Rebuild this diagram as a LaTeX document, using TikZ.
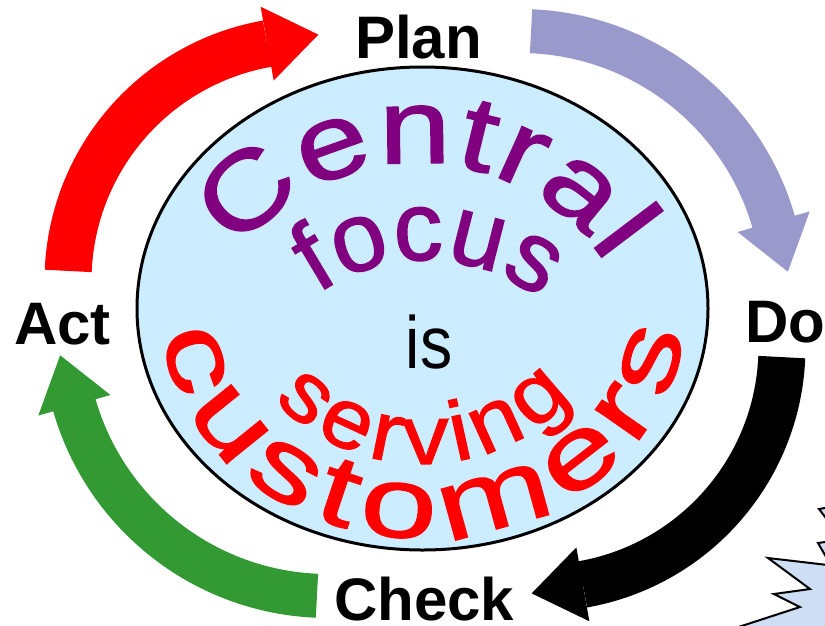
\documentclass[tikz,border=0pt]{standalone}
\usepackage{fontspec}
\setmainfont{Liberation Sans}
\newfontfamily\waCentral[FakeStretch=1.22,FakeBold=1.5]{Liberation Sans}
\newfontfamily\waFocus[FakeBold=1.5]{Liberation Sans}
\newfontfamily\waCust[FakeStretch=1.38,FakeBold=1.5]{Liberation Sans}
\newfontfamily\waServ[FakeStretch=1.1,FakeBold=1.5]{Liberation Sans}
\usetikzlibrary{arrows.meta,decorations.text,calc}
\definecolor{ellfill}{RGB}{204,236,255}
\definecolor{wpurple}{RGB}{128,0,128}
\definecolor{apurple}{RGB}{153,153,204}
\definecolor{agreen}{RGB}{51,153,51}
\definecolor{starfill}{RGB}{205,222,245}
\tikzset{
  cycarrow/.style={line width=#1, -{Triangle[length=52pt,width=75pt,line width=0pt]}},
  lab/.style={font=\bfseries\fontsize{60}{60}\selectfont, inner sep=0pt, anchor=base west},
}
\begin{document}
\begin{tikzpicture}[x=1pt,y=1pt]
\path[use as bounding box] (0,0) rectangle (825,-625);
\begin{scope}
\clip (0,0) rectangle (825,-625);
% arc centres
\coordinate (cr) at (309,-281);
\coordinate (cp) at (520,-295);
\coordinate (cb) at (541,-347);
\coordinate (cg) at (328,-332);
% cycle arrows
\draw[cycarrow=47, red] ($(cr)+(177.6:241)$) arc[start angle=177.6, end angle=100, radius=241] -- ++(10:52);
\draw[cycarrow=44, apurple] ($(cp)+(87.6:264)$) arc[start angle=87.6, end angle=15.9, radius=264] -- ++(-74.1:51);
\draw[cycarrow=47, black] ($(cb)+(-2.4:241)$) arc[start angle=-2.4, end angle=-80, radius=241] -- ++(190:52);
\draw[cycarrow=44, agreen] ($(cg)+(267.6:264)$) arc[start angle=267.6, end angle=195.9, radius=264] -- ++(105.9:51);
% central ellipse
\draw[fill=ellfill, line width=3pt] (422.5,-308.5) ellipse [x radius=285.5, y radius=241.5];
% arched texts
\path[decorate, decoration={text along path, text align=fit to path,
  text={|\waCentral\fontsize{106}{106}\selectfont\color{wpurple}|Central}}]
  ($(418,-389)+(143:226)$) arc[start angle=143, end angle=33.5, radius=226];
\path[decorate, decoration={text along path, text align=fit to path,
  text={|\waFocus\fontsize{98}{98}\selectfont\color{wpurple}|focus}}]
  ($(425,-447)+(125:187)$) arc[start angle=125, end angle=52, radius=187];
\node[anchor=base, inner sep=0pt, font=\fontsize{74}{74}\selectfont] (is) at (429,-368) {\scalebox{0.87}[1]{is}};
\path[decorate, decoration={text along path, text align=fit to path,
  text={|\waServ\fontsize{84}{84}\selectfont\color{red}|serving}}]
  ($(422,-262)+(223:202)$) arc[start angle=223, end angle=318, radius=202];
\path[decorate, decoration={text along path, text align=fit to path,
  text={|\waCust\fontsize{100}{100}\selectfont\color{red}|customers}}]
  ($(423,-310)+(186:262 and 228)$) arc[start angle=186, end angle=354, x radius=262, y radius=228];
% labels
\node[lab] (plan) at (355,-58) {Plan};
\node[lab] (act) at (14,-344) {Act};
\node[lab] (do) at (745,-342) {Do};
\node[lab] (check) at (334,-620) {Check};
% starburst in the corner
\filldraw[fill=starfill, draw=black, line width=2pt, line join=miter]
  (831,-507) -- (819,-509) -- (832,-526) -- (832,-541) -- (818,-543) -- (831,-565.4)
  -- (768,-558) -- (810,-589) -- (774,-594) -- (800,-607) -- (720,-633)
  -- (900,-640) -- (900,-480) -- cycle;
\end{scope}
\end{tikzpicture}
\end{document}
